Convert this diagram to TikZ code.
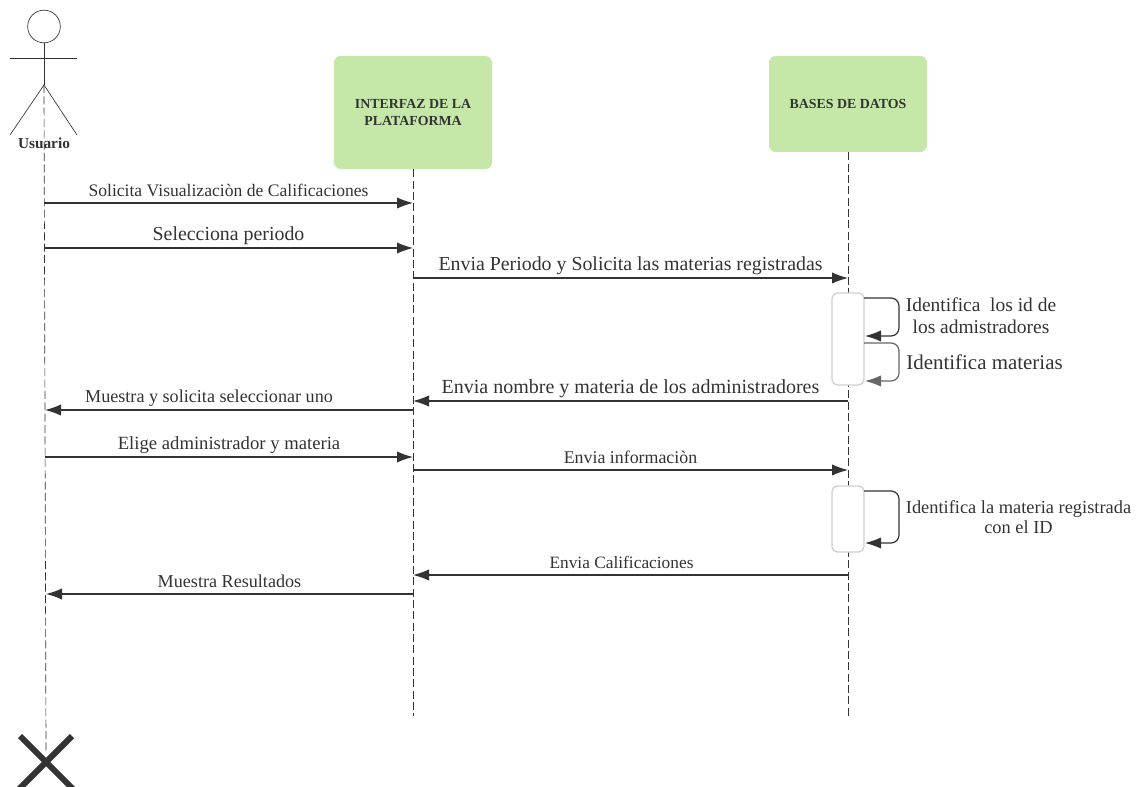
\documentclass[tikz,border=0pt]{standalone}
\usepackage{fontspec}
\setmainfont{Liberation Serif}
\usetikzlibrary{arrows.meta}
\definecolor{boxgreen}{HTML}{C5E8A9}
\definecolor{ink}{HTML}{333333}
\definecolor{actgray}{HTML}{D0D0D0}

\begin{document}
\begin{tikzpicture}[x=0.75pt,y=-0.75pt,
        lifebox/.style = {fill=boxgreen, rounded corners=5pt, align=center, text=ink, font=\bfseries\fontsize{10.4}{12.75}\selectfont, minimum width=118.5pt},
        lifeline/.style = {draw=ink, line width=0.5pt, dash pattern=on 6pt off 2.5pt},
        msg/.style = {draw=ink, line width=0.9pt, -{Latex[length=12pt,width=8.5pt]}},
        selfmsg/.style = {msg, rounded corners=6pt},
        msglabel/.style = {above=#1, text=ink, inner sep=1pt},
        msglabel/.default = 1pt,
        sidelabel/.style = {text=ink, align=center, inner sep=0pt},
        actbox/.style = {draw=actgray, fill=white, line width=1pt, rounded corners=4pt, minimum width=24pt}]
    \useasboundingbox (0,0) rectangle (1137,787);

    % Lifeline heads
    \node[lifebox, minimum height=84.75pt] (iface) at (413,112.5) {INTERFAZ DE LA\\PLATAFORMA};
    \node[lifebox, minimum height=72pt] (bd) at (848,104) {BASES DE DATOS};

    % Actor
    \node[circle, draw=ink, line width=0.5pt, minimum size=24.5pt, inner sep=0pt] (head) at (44,26.5) {};
    \coordinate (armL) at (10,58);
    \coordinate (armR) at (77,58);
    \coordinate (hip) at (44,85);
    \coordinate (legL) at (10,135);
    \coordinate (legR) at (77,135);
    \draw[ink, line width=0.5pt] (head) -- (hip);
    \draw[ink, line width=0.5pt] (armL) -- (armR);
    \draw[ink, line width=0.5pt] (legL) -- (hip) -- (legR);

    % Lifelines
    \coordinate (userEnd) at (46,752);
    \coordinate (ifaceEnd) at (413,716);
    \coordinate (bdEnd) at (848,716);
    \draw[lifeline] (hip) -- (userEnd);
    \draw[lifeline] (iface) -- (ifaceEnd);
    \draw[lifeline] (bd) -- (bdEnd);
    \node[font=\bfseries\fontsize{11.5}{13}\selectfont, text=ink, inner sep=0pt] (usuario) at (44,143) {Usuario};

    % End of the user lifeline
    \coordinate (crossA) at (20,736);
    \coordinate (crossB) at (74,790);
    \coordinate (crossC) at (72,736);
    \coordinate (crossD) at (18,790);
    \draw[ink, line width=4.5pt] (crossA) -- (crossB);
    \draw[ink, line width=4.5pt] (crossC) -- (crossD);

    % Messages
    \coordinate (u1) at (44,203);   \coordinate (i1) at (413,203);
    \coordinate (u2) at (44,248);   \coordinate (i2) at (413,248);
    \coordinate (i3) at (413,278);  \coordinate (b3) at (848,278);
    \coordinate (b4) at (848,401);  \coordinate (i4) at (413,401);
    \coordinate (i5) at (413,410);  \coordinate (u5) at (45,410);
    \coordinate (u6) at (45,457);   \coordinate (i6) at (413,457);
    \coordinate (i7) at (413,470);  \coordinate (b7) at (848,470);
    \coordinate (b8) at (848,575);  \coordinate (i8) at (413,575);
    \coordinate (i9) at (413,594);  \coordinate (u9) at (46,594);

    \draw[msg] (u1) -- node[msglabel=3pt, font=\fontsize{13.2}{15}\selectfont] (m1) {Solicita Visualizaciòn de Calificaciones} (i1);
    \draw[msg] (u2) -- node[msglabel, font=\fontsize{14.9}{17}\selectfont] (m2) {Selecciona periodo} (i2);
    \draw[msg] (i3) -- node[msglabel, font=\fontsize{14.9}{17}\selectfont] (m3) {Envia Periodo y Solicita las materias registradas} (b3);
    \draw[msg] (b4) -- node[msglabel, font=\fontsize{15}{17}\selectfont] (m4) {Envia nombre y materia de los administradores} (i4);
    \draw[msg] (i5) -- node[msglabel, xshift=-15pt, font=\fontsize{13.6}{16}\selectfont] (m5) {Muestra y solicita seleccionar uno} (u5);
    \draw[msg] (u6) -- node[msglabel, font=\fontsize{14}{16}\selectfont] (m6) {Elige administrador y materia} (i6);
    \draw[msg] (i7) -- node[msglabel=3pt, font=\fontsize{13.4}{15}\selectfont] (m7) {Envia informaciòn} (b7);
    \draw[msg] (b8) -- node[msglabel=3pt, xshift=-6.75pt, font=\fontsize{13}{15}\selectfont] (m8) {Envia Calificaciones} (i8);
    \draw[msg] (i9) -- node[msglabel=3pt, font=\fontsize{13.6}{15}\selectfont] (m9) {Muestra Resultados} (u9);

    % Activations
    \node[actbox, minimum height=69pt] (act1) at (848,339) {};
    \node[actbox, minimum height=49.5pt] (act2) at (848,519) {};

    % Self calls
    \coordinate (s1a) at (864,298);  \coordinate (s1b) at (899,298);
    \coordinate (s1c) at (899,336);  \coordinate (s1d) at (865,336);
    \coordinate (s2a) at (864,343);  \coordinate (s2b) at (899,343);
    \coordinate (s2c) at (899,381);  \coordinate (s2d) at (865,381);
    \coordinate (s3a) at (864,491);  \coordinate (s3b) at (899,491);
    \coordinate (s3c) at (899,543);  \coordinate (s3d) at (865,543);
    \draw[selfmsg] (s1a) -- (s1b) -- (s1c) -- (s1d);
    \draw[selfmsg, draw=ink!75] (s2a) -- (s2b) -- (s2c) -- (s2d);
    \draw[selfmsg] (s3a) -- (s3b) -- (s3c) -- (s3d);

    \node[sidelabel, font=\fontsize{14.6}{16.5}\selectfont] (t1) at (981,316) {Identifica\ \ los id de\\los admistradores};
    \node[sidelabel, font=\fontsize{15.7}{17}\selectfont] (t2) at (984.5,362) {Identifica materias};
    \node[sidelabel, font=\fontsize{13.8}{15}\selectfont] (t3) at (1018.5,517) {Identifica la materia registrada\\con el ID};
\end{tikzpicture}
\end{document}
